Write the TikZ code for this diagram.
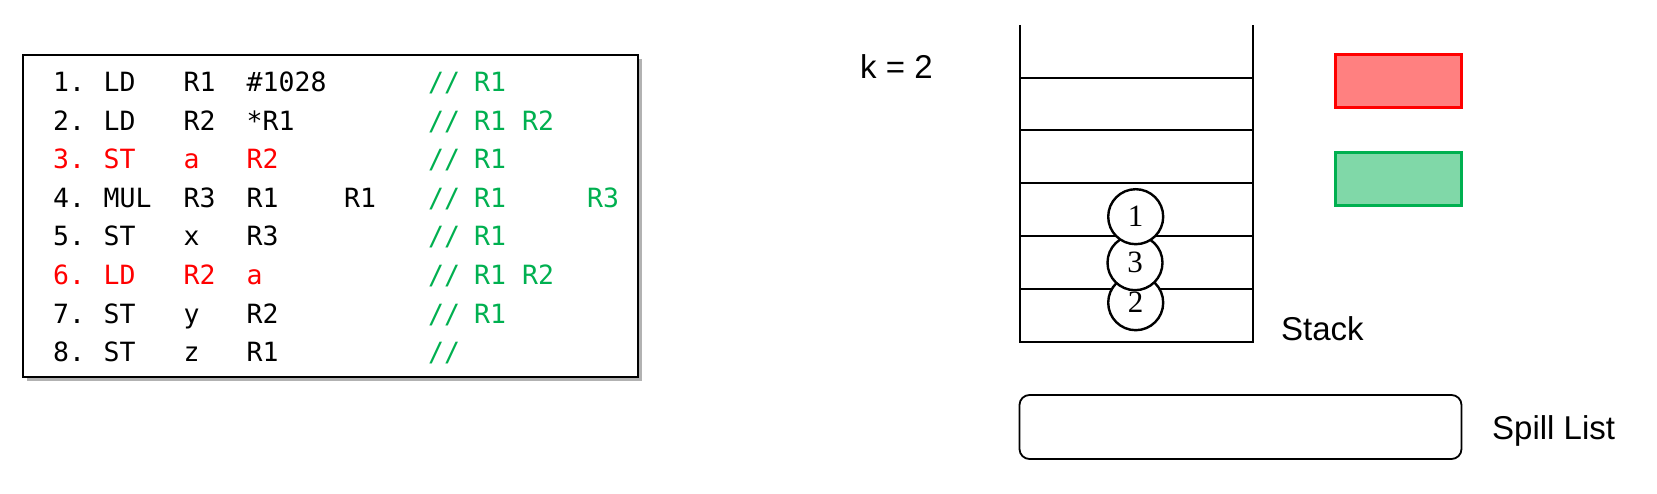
\documentclass[tikz,border=0pt]{standalone}
\usepackage{fontspec}
\setmainfont{Liberation Sans}
\newfontfamily\codefont{DejaVu Sans Mono}
\newfontfamily\numfont{Liberation Serif}
\usetikzlibrary{shadows}
\definecolor{codered}{RGB}{255,0,0}
\definecolor{codegreen}{RGB}{0,176,80}
\definecolor{redfill}{RGB}{255,128,128}
\definecolor{greenfill}{RGB}{128,216,168}
\begin{document}
\begin{tikzpicture}[x=1pt,y=-1pt,
  tok/.style={font=\codefont\fontsize{26.5}{30}\selectfont, anchor=base west, inner sep=0pt},
  hot/.style={tok, text=codered},
  cmt/.style={tok, text=codegreen},
  codebox/.style={draw=black, line width=1.8pt, fill=white, minimum width=615pt, minimum height=322pt, inner sep=0pt,
    general shadow={shadow xshift=4pt, shadow yshift=-4pt, fill=black!30}},
  label/.style={font=\fontsize{33}{40}\selectfont, anchor=base west, inner sep=0pt},
  slot/.style={line width=2pt},
  num/.style={circle, draw=black, fill=white, line width=2.4pt, minimum size=55pt, inner sep=0pt,
    font=\numfont\fontsize{31}{36}\selectfont},
  reg/.style={rectangle, line width=3pt, minimum width=126pt, minimum height=53pt, inner sep=0pt},
  spill/.style={rectangle, draw=black, line width=1.8pt, rounded corners=10pt, minimum width=442pt, minimum height=64pt, inner sep=0pt}
]
\useasboundingbox (0,0) rectangle (1657,494);

% code box
\node[codebox] (code) at (330.5,216) {};

% row 1
\node[tok] (a1) at (53,91.7) {1.};
\node[tok] (b1) at (103.5,91.7) {LD};
\node[tok] (c1) at (183.5,91.7) {R1};
\node[tok] (d1) at (246.5,91.7) {\#1028};
\node[cmt] (f1) at (428,91.7) {//};
\node[cmt] (g1) at (474,91.7) {R1};
% row 2
\node[tok] (a2) at (53,130.3) {2.};
\node[tok] (b2) at (103.5,130.3) {LD};
\node[tok] (c2) at (183.5,130.3) {R2};
\node[tok] (d2) at (246.5,130.3) {*R1};
\node[cmt] (f2) at (428,130.3) {//};
\node[cmt] (g2) at (474,130.3) {R1};
\node[cmt] (h2) at (522,130.3) {R2};
% row 3
\node[hot] (a3) at (53,168.8) {3.};
\node[hot] (b3) at (103.5,168.8) {ST};
\node[hot] (c3) at (183.5,168.8) {a};
\node[hot] (d3) at (246.5,168.8) {R2};
\node[cmt] (f3) at (428,168.8) {//};
\node[cmt] (g3) at (474,168.8) {R1};
% row 4
\node[tok] (a4) at (53,207.4) {4.};
\node[tok] (b4) at (103.5,207.4) {MUL};
\node[tok] (c4) at (183.5,207.4) {R3};
\node[tok] (d4) at (246.5,207.4) {R1};
\node[tok] (e4) at (344,207.4) {R1};
\node[cmt] (f4) at (428,207.4) {//};
\node[cmt] (g4) at (474,207.4) {R1};
\node[cmt] (i4) at (587,207.4) {R3};
% row 5
\node[tok] (a5) at (53,246.0) {5.};
\node[tok] (b5) at (103.5,246.0) {ST};
\node[tok] (c5) at (183.5,246.0) {x};
\node[tok] (d5) at (246.5,246.0) {R3};
\node[cmt] (f5) at (428,246.0) {//};
\node[cmt] (g5) at (474,246.0) {R1};
% row 6
\node[hot] (a6) at (53,284.6) {6.};
\node[hot] (b6) at (103.5,284.6) {LD};
\node[hot] (c6) at (183.5,284.6) {R2};
\node[hot] (d6) at (246.5,284.6) {a};
\node[cmt] (f6) at (428,284.6) {//};
\node[cmt] (g6) at (474,284.6) {R1};
\node[cmt] (h6) at (522,284.6) {R2};
% row 7
\node[tok] (a7) at (53,323.1) {7.};
\node[tok] (b7) at (103.5,323.1) {ST};
\node[tok] (c7) at (183.5,323.1) {y};
\node[tok] (d7) at (246.5,323.1) {R2};
\node[cmt] (f7) at (428,323.1) {//};
\node[cmt] (g7) at (474,323.1) {R1};
% row 8
\node[tok] (a8) at (53,361.7) {8.};
\node[tok] (b8) at (103.5,361.7) {ST};
\node[tok] (c8) at (183.5,361.7) {z};
\node[tok] (d8) at (246.5,361.7) {R1};
\node[cmt] (f8) at (428,361.7) {//};

% k label
\node[label] (k) at (860,79) {k = 2};

% stack
\draw[slot] (1020,25) -- (1020,342) -- (1253,342) -- (1253,25);
\foreach \yy in {78,130,183,236,289}
  \draw[slot] (1020,\yy) -- (1253,\yy);

\node[num] (n2) at (1135.7,302.7) {2};
\node[num] (n3) at (1135,262.7) {3};
\node[num] (n1) at (1135.7,216.7) {1};

\node[label] (stack) at (1281,340) {Stack};

% register colours
\node[reg, draw=codered, fill=redfill] (rr) at (1398.3,80.8) {};
\node[reg, draw=codegreen, fill=greenfill] (rg) at (1398.3,179) {};

% spill list
\node[spill] (sl) at (1240.5,427) {};
\node[label] (spl) at (1492,439) {Spill List};
\end{tikzpicture}
\end{document}
